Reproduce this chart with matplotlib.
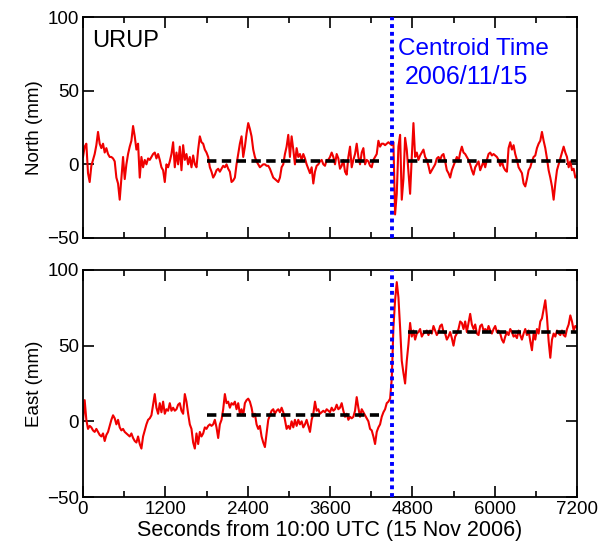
import numpy as np
import matplotlib
matplotlib.use("Agg")
import matplotlib.pyplot as plt

plt.rcParams['font.family'] = ['Liberation Sans', 'DejaVu Sans']

# ---- data (mm), evenly sampled over 0..7200 s ----
north = [5, 12, 14, -6, -12, -1, 3, 7, 13, 22,
         14, 11, 14, 8, 11, 7, 5, 5, 4, 2,
         -9, -13, -24, -9, 5, -10, 0, 7, 12, 16,
         26, 19, 10, 14, -9, 5, -2, 3, 0, 4,
         3, 5, 7, 8, 4, 7, 3, -2, -4, -12,
         0, -2, 2, 7, 15, -2, 8, 0, 12, -4,
         13, 3, 7, 0, 5, -2, 6, 0, -2, 10,
         19, 15, 14, 10, 8, 5, -2, -5, -9, -7,
         -4, -3, -5, -3, -1, -2, 0, -3, -5, -12,
         -11, -9, 0, 7, 14, 19,
         5, 12, 21, 28, 24, 19, 10, 5, 2, 0,
         -2, -1, 0, 0, -1, -1, -3, -6, -9, -10,
         -11, -12, -9, -2, 0, 7, 12, 20, 5, 19,
         10, 0, 11, 5, 7, 3, 7, 4, 0, -3,
         -6, -2, -13, -5, -1, 0, 2, 3, 0, -1,
         3, 3, 5, 8, 5, 0, 7, 4, -3, -1,
         3, -5, -7, 5, 12, -2, 3, 7, 14, 5,
         0, 8, 11, 0, 3, 2, -1, -2, 3, 5,
         7, 16, 12, 14, 14, 13, 14, 15, 14, 13,
         15, -34, -20, 12, 20, -24, -10, 18, 10, -5, -20, 5, 28,
         5, 8, 3, 6, 8, 10, 5, 3, -1, -6,
         -4, -2, 0, 4, 5, 3, 6, 7, 2, -4,
         -6, -9, -4, -1, 2, 5, 2, 8, 12, 8,
         7, 5, 3, 0, -4, -7, -2, 0, 2, -4,
         -1, 2, -2, 3, 7, 8, 6, 7, 6, 5,
         3, -1, 2, -2, -4, -5, 11, 15, 10, 13,
         7, 3, -2, -4, -6, -13, -15, -10, -4, -2,
         2, 5, 6, 11, 14, 16, 22, 16, 11, 4,
         -4, -9, -15, -24, -13, -4, 0, 4, 8, 12,
         8, 5, -2, 2, -4, -3, -9, -8]

east = [0, 14, 1, -5, -3, -4, -6, -7, -5, -7,
        -9, -10, -8, -13, -9, -7, -3, 1, 4, 2,
        -2, 1, -4, -6, -5, -7, -8, -9, -10, -8,
        -11, -13, -14, -10, -15, -18, -10, -6, -2, 1,
        2, 4, 11, 18, 9, 5, 12, 6, 13, 5,
        8, 7, 12, 7, 9, 7, 8, 11, 12, 7,
        5, 18, 13, 5, -2, -5, -14, -18, -8, -15,
        -7, -10, -8, -4, -5, -3, -2, -3, -2, 1,
        -4, -11, -2, 1, 8, 18, 12, 13, 9, 12,
        11, 13, 8, 12, 5, 8,
        4, 12, 14, 15, 13, 9, 3, 5, -2, -5,
        -3, -10, -14, -17, -8, 1, 4, 7, 8, 5,
        7, 8, 6, 9, 6, 1, -5, -3, -5, 0,
        -4, 1, -3, 1, -2, 0, -4, -2, 1, -3,
        -7, 1, 5, 13, 7, 8, 5, 6, 7, 6,
        8, 7, 6, 9, 7, 8, 11, 8, 9, 12,
        7, 3, 5, 1, 3, 2, 3, 7, 16, 9,
        3, 8, 6, 4, 2, 0, -5, -6, -10, -15,
        -7, -4, -2, 3, 6, 8, 12, 13, 15,
        28, 62, 80, 92,
        82, 62, 40, 32, 25, 40, 51, 65, 56, 60,
        54, 58, 59, 61, 56, 58, 59, 60, 57, 60,
        58, 63, 60, 57, 59, 63, 64, 59, 58, 54,
        56, 59, 55, 50, 56, 58, 61, 66, 65, 61,
        66, 59, 65, 71, 64, 61, 64, 58, 57, 63,
        64, 60, 61, 59, 63, 60, 58, 61, 63, 59,
        60, 58, 54, 52, 56, 59, 57, 61, 59, 56,
        57, 55, 60, 57, 54, 58, 61, 57, 60, 53,
        47, 58, 54, 61, 58, 66, 68, 74, 80, 69,
        53, 42, 54, 58, 56, 60, 58, 57, 60, 57,
        56, 61, 64, 70, 66, 60, 63, 62]

t_start, t_end = 0, 7200
centroid_time = 4505

# mean offset segments: (start, end, level)
north_means = [(1800, 4320, 2), (4740, 7200, 2)]
east_means = [(1800, 4320, 4), (4740, 7200, 59)]

station = "URUP"
centroid_label = ["Centroid Time", "2006/11/15"]
xticks = [0, 1200, 2400, 3600, 4800, 6000, 7200]
yticks = [-50, 0, 50, 100]

# ---- figure ----
W, H = 602, 546
fig = plt.figure(figsize=(W / 100, H / 100), dpi=100)
left = 83 / W
width = 494 / W
ax1 = fig.add_axes([left, 1 - 238 / H, width, 221 / H])
ax2 = fig.add_axes([left, 1 - 497 / H, width, 227 / H])

for ax, data, means, ylabel in [(ax1, north, north_means, "North (mm)"),
                                 (ax2, east, east_means, "East (mm)")]:
    t = np.linspace(t_start, t_end, len(data))
    ax.plot(t, data, color='#f00000', lw=1.5, zorder=2)
    for (a, b, lev) in means:
        ax.plot([a, b], [lev, lev], color='black', lw=2.6,
                dashes=(2.6, 1.5), zorder=3, solid_capstyle='butt',
                dash_capstyle='butt')
    ax.axvline(centroid_time, color='#0000ff', lw=2.8, dashes=(1, 1.0),
               zorder=4, dash_capstyle='butt')
    ax.set_xlim(t_start, t_end)
    ax.set_ylim(-50, 100)
    ax.set_yticks(yticks)
    ax.set_xticks(xticks)
    ax.set_xticks(np.arange(600, 7200, 1200), minor=True)
    ax.tick_params(which='both', direction='in', top=True, right=True,
                   labelsize=13.5, width=1.2, pad=3)
    ax.tick_params(which='major', length=8)
    ax.tick_params(which='minor', length=4)
    for s in ax.spines.values():
        s.set_linewidth(1.3)
    ax.set_ylabel(ylabel, fontsize=13.5, labelpad=3)

ax1.set_xticklabels([])
ax2.set_xlabel("Seconds from 10:00 UTC (15 Nov 2006)", fontsize=15.5, labelpad=1)

ax1.text(0.018, 0.94, station, transform=ax1.transAxes, fontsize=17,
         va='top', ha='left', color='black')
ax1.text(0.638, 0.905, centroid_label[0], transform=ax1.transAxes,
         fontsize=17.5, va='top', ha='left', color='#0000ff')
ax1.text(0.652, 0.785, centroid_label[1], transform=ax1.transAxes,
         fontsize=18, va='top', ha='left', color='#0000ff')

fig.savefig("out.png", dpi=100)
